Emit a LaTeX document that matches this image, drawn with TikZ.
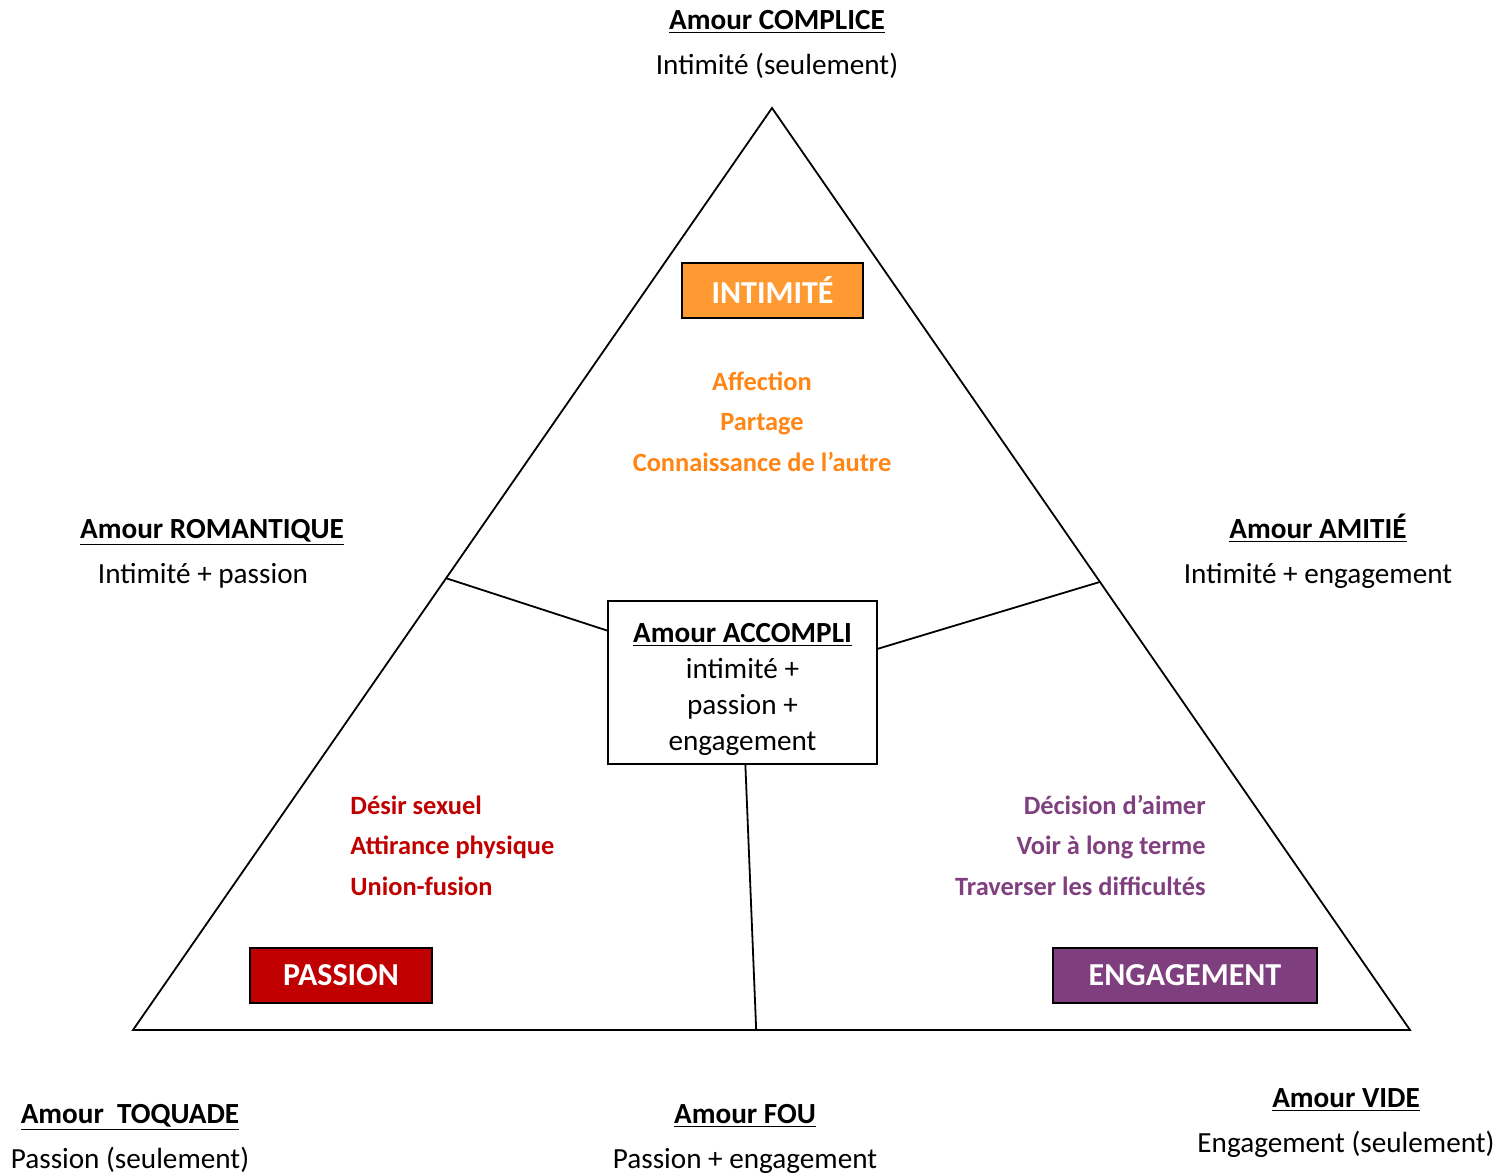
\documentclass[tikz,border=0pt]{standalone}
\usepackage{fontspec}
\setmainfont{Carlito}
\usetikzlibrary{calc}
\definecolor{orbox}{HTML}{FF9A33}
\definecolor{ortxt}{HTML}{FF8514}
\definecolor{redc}{HTML}{C00000}
\definecolor{purbox}{HTML}{7F3F7F}
\definecolor{purtxt}{HTML}{80407F}
\begin{document}
\begin{tikzpicture}[x=0.5pt,y=-0.5pt,
  lbl/.style={inner sep=0pt,font=\fontsize{14.6}{17.5}\selectfont},
  ttl/.style={inner sep=0pt,font=\fontsize{14.6}{17.5}\selectfont\bfseries},
  col/.style={inner sep=0pt,font=\fontsize{13.2}{16}\selectfont\bfseries},
  catbox/.style={draw=black,line width=1pt,inner sep=0pt,minimum height=27.5pt,text=white,font=\fontsize{16}{19}\selectfont\bfseries},
  edge/.style={line width=0.9pt}]
\useasboundingbox (0,0) rectangle (1510,1173);
% triangle
\coordinate (top) at (772,108);
\coordinate (bl) at (133,1030);
\coordinate (br) at (1410,1030);
\draw[edge,line join=miter] (top) -- (bl) -- (br) -- cycle;
\coordinate (el) at ($(top)!0.51!(bl)$);
\coordinate (er) at ($(top)!0.514!(br)$);
\coordinate (eb) at ($(bl)!0.488!(br)$);
% centre box
\node[draw=black,line width=1pt,minimum width=134.5pt,minimum height=81.5pt,inner sep=0pt,align=center,font=\fontsize{14.6}{18}\selectfont] (acc) at (742.5,682.5) {\rule{0pt}{16pt}\textbf{\underline{Amour ACCOMPLI}}\\intimité +\\passion +\\engagement};
\draw[edge] (el) -- (acc.159.4);
\draw[edge] (er) -- (acc.14.4);
\draw[edge] (eb) -- (acc.272.6);
% category boxes
\node[catbox,fill=orbox,minimum width=90.5pt] (intim) at (772.5,290.5) {INTIMITÉ};
\node[catbox,fill=redc,minimum width=91pt] (pass) at (341,975.5) {\raisebox{-1.2pt}{PASSION}};
\node[catbox,fill=purbox,minimum width=132pt] (eng) at (1185,975.5) {\raisebox{-1.2pt}{ENGAGEMENT}};
% intimacy words
\node[col,text=ortxt,anchor=base] (i1) at (762,390) {Affection};
\node[col,text=ortxt,anchor=base] (i2) at (762,430) {Partage};
\node[col,text=ortxt,anchor=base] (i3) at (762,471) {Connaissance de l’autre};
% passion words
\node[col,text=redc,anchor=base west] (p1) at (350,814) {Désir sexuel};
\node[col,text=redc,anchor=base west] (p2) at (350,854) {Attirance physique};
\node[col,text=redc,anchor=base west] (p3) at (350,895) {Union-fusion};
% engagement words
\node[col,text=purtxt,anchor=base east] (e1) at (1206,814) {Décision d’aimer};
\node[col,text=purtxt,anchor=base east] (e2) at (1206,854) {Voir à long terme};
\node[col,text=purtxt,anchor=base east] (e3) at (1206,895) {Traverser les difficultés};
% outer labels
\node[ttl,anchor=base] (t1) at (777,29) {\underline{Amour COMPLICE}};
\node[lbl,anchor=base] (s1) at (777,74) {Intimité (seulement)};
\node[ttl,anchor=base] (t2) at (212,538) {\underline{Amour ROMANTIQUE}};
\node[lbl,anchor=base] (s2) at (203,583) {Intimité + passion};
\node[ttl,anchor=base] (t3) at (1318,538) {\underline{Amour AMITIÉ}};
\node[lbl,anchor=base] (s3) at (1318,583) {Intimité + engagement};
\node[ttl,anchor=base] (t4) at (130,1123) {\underline{Amour~~TOQUADE}};
\node[lbl,anchor=base] (s4) at (130,1168) {Passion (seulement)};
\node[ttl,anchor=base] (t5) at (745,1123) {\underline{Amour FOU}};
\node[lbl,anchor=base] (s5) at (745,1168) {Passion + engagement};
\node[ttl,anchor=base] (t6) at (1346,1107) {\underline{Amour VIDE}};
\node[lbl,anchor=base] (s6) at (1346,1152) {Engagement (seulement)};
\end{tikzpicture}
\end{document}
